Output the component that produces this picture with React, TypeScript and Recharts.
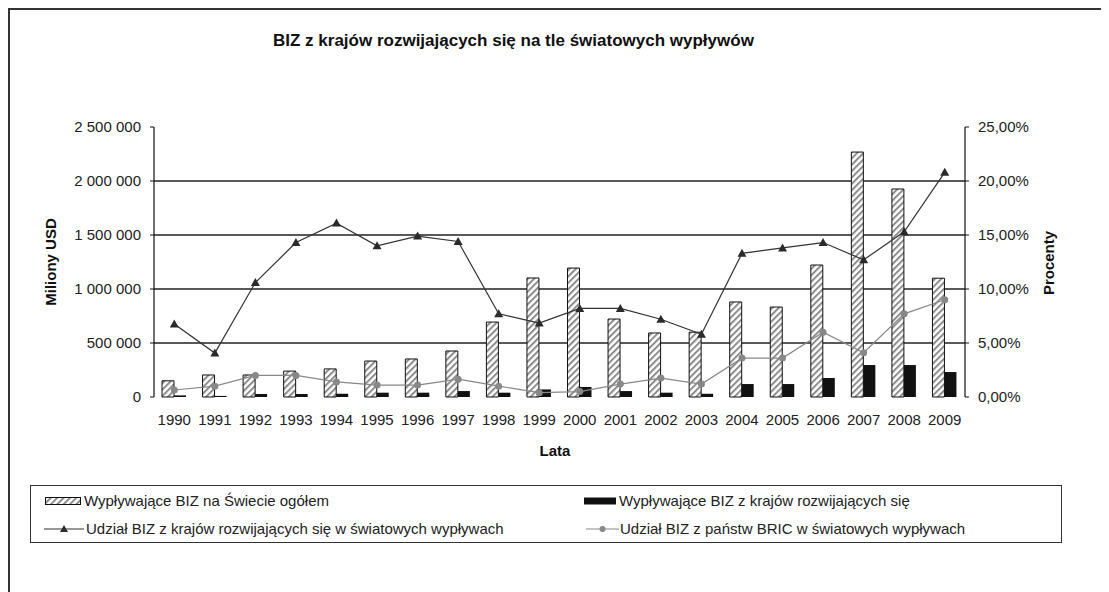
import { ComposedChart, Bar, Line, XAxis, YAxis, CartesianGrid } from 'recharts'

const YEARS = ['1990', '1991', '1992', '1993', '1994', '1995', '1996', '1997', '1998', '1999', '2000', '2001', '2002', '2003', '2004', '2005', '2006', '2007', '2008', '2009']
const WORLD_OUTFLOWS = [150000, 204000, 204000, 240000, 260000, 333000, 352000, 426000, 694000, 1102000, 1194000, 722000, 593000, 600000, 880000, 833000, 1222000, 2268000, 1926000, 1100000]
const DEVELOPING_OUTFLOWS = [15000, 10000, 28000, 28000, 30000, 40000, 40000, 55000, 40000, 70000, 93000, 55000, 40000, 30000, 120000, 120000, 176000, 296000, 296000, 231000]
const DEVELOPING_SHARE = [6.76, 4.07, 10.6, 14.3, 16.1, 14.0, 14.9, 14.4, 7.7, 6.85, 8.2, 8.2, 7.2, 5.8, 13.3, 13.8, 14.3, 12.7, 15.3, 20.8]
const BRIC_SHARE = [0.65, 1.0, 2.0, 2.0, 1.4, 1.1, 1.1, 1.65, 1.0, 0.4, 0.5, 1.2, 1.75, 1.2, 3.6, 3.6, 6.0, 4.1, 7.7, 9.0]

const LEFT_TICKS = [0, 500000, 1000000, 1500000, 2000000, 2500000]
const RIGHT_TICKS = [0, 5, 10, 15, 20, 25]
const GRID_VALUES = LEFT_TICKS.slice(1, -1)
const BOUNDARY_TICKS = [...YEARS.map((_, i) => i), YEARS.length]

const LABELS = {
  world: 'Wypływające BIZ na Świecie ogółem',
  developing: 'Wypływające BIZ z krajów rozwijających się',
  devShare: 'Udział BIZ z krajów rozwijających się w światowych wypływach',
  bricShare: 'Udział BIZ z państw BRIC w światowych wypływach',
}

const data = YEARS.map((year, i) => ({
  year,
  world: WORLD_OUTFLOWS[i],
  developing: DEVELOPING_OUTFLOWS[i],
  devShare: DEVELOPING_SHARE[i],
  bricShare: BRIC_SHARE[i],
}))

const FONT = '"Liberation Sans", Arial, sans-serif'
const W = 1101
const H = 584

const fmtMillions = (v: number) => String(v).replace(/\B(?=(\d{3})+(?!\d))/g, ' ')
const fmtPercent = (v: number) => v.toFixed(2).replace('.', ',') + '%'

function Triangle(props: any) {
  const { cx, cy, index } = props
  if (cx == null || cy == null) return <g key={`t-${index}`} />
  return <path key={`t-${index}`} d={`M${cx},${cy - 4.5} L${cx + 4.5},${cy + 3.5} L${cx - 4.5},${cy + 3.5} Z`} fill="#2a2a2a" />
}

function Circle(props: any) {
  const { cx, cy, index } = props
  if (cx == null || cy == null) return <g key={`c-${index}`} />
  return <circle key={`c-${index}`} cx={cx} cy={cy} r={3.5} fill="#888" />
}

function LegendBox() {
  const text = { fontSize: 15, color: '#222', whiteSpace: 'nowrap' as const }
  return (
    <div
      style={{
        position: 'absolute',
        left: 22,
        top: 477,
        width: 1032,
        height: 58,
        border: '1.5px solid #333',
        boxSizing: 'border-box',
        fontFamily: FONT,
      }}
    >
      <div style={{ position: 'absolute', left: 14, top: 6, display: 'flex', alignItems: 'center' }}>
        <svg width={37} height={10} style={{ marginRight: 2 }}>
          <rect x={0.5} y={1.5} width={35} height={7} fill="url(#hatch)" stroke="#111" />
        </svg>
        <span style={text}>{LABELS.world}</span>
      </div>
      <div style={{ position: 'absolute', left: 13, top: 34, display: 'flex', alignItems: 'center' }}>
        <svg width={40} height={10} style={{ marginRight: 2 }}>
          <line x1={0} y1={5} x2={40} y2={5} stroke="#333" />
          <path d="M20,1 L24,8 L16,8 Z" fill="#2a2a2a" />
        </svg>
        <span style={text}>{LABELS.devShare}</span>
      </div>
      <div style={{ position: 'absolute', left: 553, top: 6, display: 'flex', alignItems: 'center' }}>
        <svg width={33} height={10} style={{ marginRight: 2 }}>
          <rect x={0} y={1.5} width={32} height={7} fill="#111" />
        </svg>
        <span style={text}>{LABELS.developing}</span>
      </div>
      <div style={{ position: 'absolute', left: 555, top: 34, display: 'flex', alignItems: 'center' }}>
        <svg width={33} height={10} style={{ marginRight: 1 }}>
          <line x1={0} y1={5} x2={33} y2={5} stroke="#888" />
          <circle cx={16.5} cy={5} r={3} fill="#888" />
        </svg>
        <span style={text}>{LABELS.bricShare}</span>
      </div>
    </div>
  )
}

export default function App() {
  const axisLabel = { position: 'absolute' as const, fontFamily: FONT, fontWeight: 'bold' as const, fontSize: 15, color: '#111', whiteSpace: 'nowrap' as const }
  return (
    <div style={{ position: 'relative', width: W, height: H, fontFamily: FONT, background: '#fff' }}>
      <svg width={0} height={0} style={{ position: 'absolute' }}>
        <defs>
          <pattern id="hatch" patternUnits="userSpaceOnUse" width={4.5} height={4.5} patternTransform="rotate(45)">
            <rect x={0} y={0} width={4.5} height={4.5} fill="#fff" />
            <rect x={0} y={0} width={2} height={4.5} fill="#8c8c8c" />
          </pattern>
        </defs>
      </svg>
      <div style={{ position: 'absolute', left: 0, top: 0, width: W, height: H, borderLeft: '2px solid #333', borderTop: '2px solid #333', boxSizing: 'border-box' }} />
      <div style={{ position: 'absolute', left: 265, top: 23, fontSize: 17, fontWeight: 'bold', color: '#111', whiteSpace: 'nowrap' }}>
        BIZ z krajów rozwijających się na tle światowych wypływów
      </div>
      <ComposedChart
        width={W}
        height={H}
        data={data}
        margin={{ top: 119, right: 44, bottom: 155, left: 46 }}
        barGap={0}
        style={{ position: 'absolute', left: 0, top: 0 }}
      >
        <CartesianGrid yAxisId="left" vertical={false} horizontalValues={GRID_VALUES} stroke="#222" strokeWidth={1.3} />
        <XAxis
          xAxisId="bounds"
          type="number"
          domain={[0, YEARS.length]}
          ticks={BOUNDARY_TICKS}
          allowDataOverflow
          height={0}
          tickFormatter={() => ''}
          tickSize={6}
          stroke="#111"
          axisLine={{ stroke: '#111', strokeWidth: 1.2 }}
        />
        <XAxis
          xAxisId="main"
          dataKey="year"
          height={40}
          axisLine={false}
          tickLine={false}
          tickMargin={17}
          tickSize={0}
          interval={0}
          tick={{ fontSize: 15, fill: '#222', fontFamily: FONT }}
        />
        <YAxis
          yAxisId="left"
          domain={[0, 2500000]}
          ticks={LEFT_TICKS}
          tickFormatter={fmtMillions}
          width={100}
          tickSize={4}
          tickMargin={9}
          stroke="#111"
          axisLine={{ stroke: '#111', strokeWidth: 1.2 }}
          tick={{ fontSize: 15, fill: '#222', fontFamily: FONT }}
        />
        <YAxis
          yAxisId="right"
          orientation="right"
          domain={[0, 25]}
          ticks={RIGHT_TICKS}
          tickFormatter={fmtPercent}
          width={100}
          tickSize={4}
          tickMargin={9}
          stroke="#111"
          axisLine={{ stroke: '#111', strokeWidth: 1.2 }}
          tick={{ fontSize: 15, fill: '#222', fontFamily: FONT, textAnchor: 'start' }}
        />
        <Bar xAxisId="main" yAxisId="left" dataKey="world" name={LABELS.world} barSize={12} fill="url(#hatch)" stroke="#111" strokeWidth={1} isAnimationActive={false} />
        <Bar xAxisId="main" yAxisId="left" dataKey="developing" name={LABELS.developing} barSize={12} fill="#111" isAnimationActive={false} />
        <Line xAxisId="main" yAxisId="right" dataKey="devShare" name={LABELS.devShare} stroke="#333" strokeWidth={1.2} dot={Triangle} activeDot={false} isAnimationActive={false} />
        <Line xAxisId="main" yAxisId="right" dataKey="bricShare" name={LABELS.bricShare} stroke="#888" strokeWidth={1.2} dot={Circle} activeDot={false} isAnimationActive={false} />
      </ComposedChart>
      <div style={{ ...axisLabel, left: 42, top: 254, transform: 'translate(-50%, -50%) rotate(-90deg)' }}>Miliony USD</div>
      <div style={{ ...axisLabel, left: 1040, top: 255, transform: 'translate(-50%, -50%) rotate(-90deg)' }}>Procenty</div>
      <div style={{ ...axisLabel, left: 547, top: 442, transform: 'translate(-50%, -50%)' }}>Lata</div>
      <LegendBox />
    </div>
  )
}
